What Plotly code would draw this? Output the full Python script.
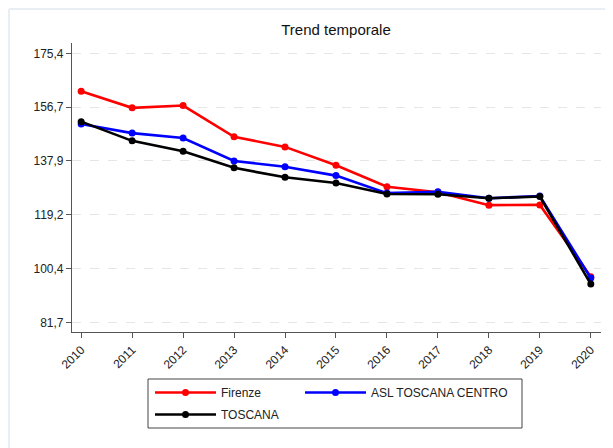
import plotly.graph_objects as go

years = [2010, 2011, 2012, 2013, 2014, 2015, 2016, 2017, 2018, 2019, 2020]
firenze = [162.2, 156.4, 157.2, 146.3, 142.8, 136.4, 128.9, 127.0, 122.5, 122.6, 97.6]
asl_centro = [150.8, 147.6, 145.9, 137.9, 135.9, 132.8, 126.7, 127.2, 124.9, 125.7, 97.1]
toscana = [151.6, 144.9, 141.3, 135.5, 132.2, 130.2, 126.4, 126.3, 124.9, 125.5, 95.0]

y_tickvals = [81.7, 100.44, 119.18, 137.92, 156.66, 175.4]
y_ticktext = ["81,7", "100,4", "119,2", "137,9", "156,7", "175,4"]

FONT = "Liberation Sans, Arial, sans-serif"
OFF = 8  # page body margin
W, H = 613, 448
L, T = 72 - OFF, 43 - OFF
PR, PB = 601 - OFF, 332 - OFF
R, B = W - PR, H - PB
PW, PH = PR - L, PB - T

def px_x(x):
    return (x - OFF - L) / PW

def px_y(y):
    return (PB - (y - OFF)) / PH

fig = go.Figure()
fig.add_trace(go.Scatter(x=years, y=firenze, name="Firenze", mode="lines+markers",
                         line=dict(color="#FF0000", width=2.6), marker=dict(size=7, color="#FF0000"),
                         legend="legend", legendgroup="a"))
fig.add_trace(go.Scatter(x=years, y=asl_centro, name="ASL TOSCANA CENTRO", mode="lines+markers",
                         line=dict(color="#0000FF", width=2.6), marker=dict(size=7, color="#0000FF"),
                         legend="legend2", legendgroup="b"))
fig.add_trace(go.Scatter(x=years, y=toscana, name="TOSCANA", mode="lines+markers",
                         line=dict(color="#000000", width=2.6), marker=dict(size=7, color="#000000"),
                         legend="legend", legendgroup="c"))

axis_color = "#555555"
fig.update_layout(
    width=W, height=H,
    margin=dict(l=L, r=R, t=T, b=B, autoexpand=False),
    paper_bgcolor="white", plot_bgcolor="white",
    font=dict(family=FONT, size=12, color="#222222"),
    separators=",.",
    title=dict(text="Trend temporale", x=(336 - OFF) / W, xanchor="center",
               y=(H - (30 - OFF)) / H, yanchor="middle", yref="container", xref="container",
               font=dict(size=15, color="#111111", family=FONT)),
    xaxis=dict(range=[2009.82, 2020.2], tickmode="array", tickvals=years,
               ticktext=[str(y) for y in years], tickangle=-45,
               showgrid=False, zeroline=False, showline=True, linecolor=axis_color, linewidth=1.2,
               ticks="outside", ticklen=5, tickcolor=axis_color, tickwidth=1.2,
               tickfont=dict(size=12, color="#222222")),
    yaxis=dict(range=[78.32, 178.99], tickmode="array", tickvals=y_tickvals, ticktext=y_ticktext,
               showgrid=True, gridcolor="#E6E6E6", griddash="dash", gridwidth=1,
               zeroline=False, showline=True, linecolor=axis_color, linewidth=1.2,
               ticks="outside", ticklen=5, tickcolor=axis_color, tickwidth=1.2,
               tickfont=dict(size=12, color="#222222")),
    legend=dict(x=px_x(150), xanchor="left", y=px_y(378), yanchor="top",
                orientation="v", borderwidth=0, bgcolor="rgba(0,0,0,0)",
                tracegroupgap=3, itemwidth=61, font=dict(size=12, color="#222222")),
    legend2=dict(x=px_x(300), xanchor="left", y=px_y(378), yanchor="top",
                 orientation="v", borderwidth=0, bgcolor="rgba(0,0,0,0)",
                 itemwidth=61, font=dict(size=12, color="#222222")),
    showlegend=True,
    shapes=[
        dict(type="rect", xref="paper", yref="paper",
             x0=px_x(148), x1=px_x(522), y0=px_y(428), y1=px_y(379),
             line=dict(color="#444444", width=1), fillcolor="rgba(0,0,0,0)", layer="above"),
        dict(type="line", xref="paper", yref="paper",
             x0=px_x(9), x1=px_x(9), y0=px_y(9), y1=px_y(460),
             line=dict(color="#E8EEF3", width=2)),
        dict(type="line", xref="paper", yref="paper",
             x0=px_x(9), x1=px_x(625), y0=px_y(9), y1=px_y(9),
             line=dict(color="#E8EEF3", width=2)),
    ],
)

fig.write_html("out.html")
